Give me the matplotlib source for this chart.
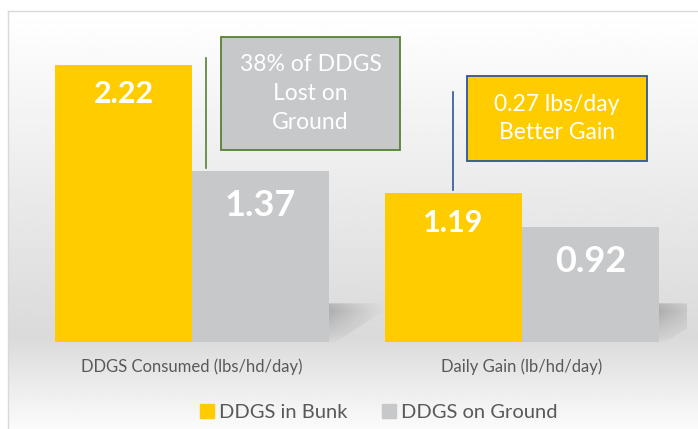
import numpy as np
import matplotlib
matplotlib.use("Agg")
import matplotlib.pyplot as plt
from matplotlib.patches import Rectangle, Polygon
from matplotlib.lines import Line2D

categories = ["DDGS Consumed (lbs/hd/day)", "Daily Gain (lb/hd/day)"]
series_names = ["DDGS in Bunk", "DDGS on Ground"]
bunk = [2.22, 1.19]
ground = [1.37, 0.92]

GOLD = "#FFCC00"
GRAY = "#C7C8CA"
TXT = "#595959"
FONT = ["Lato", "DejaVu Sans"]

plt.rcParams["font.family"] = FONT

W, H = 698, 429
fig = plt.figure(figsize=(W / 100, H / 100), dpi=100)

# background: frame with vertical gradient
bg = fig.add_axes([0, 0, 1, 1], zorder=0)
bg.set_xlim(0, W)
bg.set_ylim(H, 0)
bg.axis("off")
yy = np.linspace(0, 1, 200)
shade = np.interp(yy, [0, 0.78, 1.0], [1.0, 0.855, 0.985])
grad = np.tile(shade[:, None], (1, 2))
bg.imshow(grad, cmap="gray", vmin=0, vmax=1, extent=[8, W, H, 11],
          aspect="auto", interpolation="bilinear")
bg.plot([8, 8], [11, H], color="#D9D9D9", lw=1)
bg.plot([8, W], [11, 11], color="#D9D9D9", lw=1)

# bar axes, 330 px per category, 124.8 px per unit
ax = fig.add_axes([27 / W, 87 / H, 660 / W, 312 / H], zorder=1)
ax.set_xlim(-0.5, 1.5)
ax.set_ylim(0, 2.5)
ax.patch.set_alpha(0)
for s in ax.spines.values():
    s.set_visible(False)
ax.set_yticks([])

x = np.arange(len(categories))
w = 0.415

# soft shadows to the right of each pair
sx = np.linspace(0, 1, 60)
sy = np.linspace(0, 1, 40)
GX, GY = np.meshgrid(sx, sy)
alpha = 0.45 * (1 - GX) ** 1.3 * np.clip(1 - np.abs(GY - 0.75) * 1.2, 0, 1)
shadow_img = np.zeros((40, 60, 4))
shadow_img[..., :3] = 0.45
shadow_img[..., 3] = alpha
for xi in x:
    x0 = xi + w
    im = ax.imshow(shadow_img, extent=[x0, x0 + 0.18, 0.0, 0.33], origin="lower",
                   aspect="auto", interpolation="bilinear", zorder=1)
    clip = Polygon([[x0, 0.0], [x0, 0.31], [x0 + 0.18, 0.31], [x0 + 0.18, 0.27], [x0 + 0.02, 0.0]],
                   closed=True, transform=ax.transData)
    im.set_clip_path(clip)

ax.bar(x - w / 2, bunk, w, color=GOLD, zorder=2)
ax.bar(x + w / 2, ground, w, color=GRAY, zorder=2)

for xi, v in zip(x, bunk):
    ax.annotate(f"{v:.2f}", (xi - w / 2, v), xytext=(0, -21), textcoords="offset points",
                ha="center", va="center", color="white", fontsize=22, fontweight="bold", zorder=3)
for xi, v in zip(x, ground):
    ax.annotate(f"{v:.2f}", (xi + w / 2, v), xytext=(0, -24.5), textcoords="offset points",
                ha="center", va="center", color="white", fontsize=26, fontweight="bold", zorder=3)

ax.set_xticks(x)
ax.set_xticklabels(categories, fontsize=12, color=TXT)
ax.tick_params(axis="x", length=0, pad=12)

# callout boxes
ax.plot([0.042, 0.042], [1.394, 2.276], color="#548235", lw=1.2, zorder=3)
ax.add_patch(Rectangle((0.088, 1.538), 0.542, 0.906, facecolor=GRAY,
                       edgecolor="#548235", lw=1.3, zorder=3))
ax.text(0.359, 1.991, "38% of DDGS\nLost on\nGround", ha="center", va="center",
        color="white", fontsize=16.5, linespacing=1.45, zorder=4)

ax.plot([0.791, 0.791], [1.218, 2.003], color="#2F5597", lw=1.2, zorder=3)
ax.add_patch(Rectangle((0.833, 1.450), 0.546, 0.681, facecolor=GOLD,
                       edgecolor="#2F5597", lw=1.3, zorder=3))
ax.text(1.106, 1.790, "0.27 lbs/day\nBetter Gain", ha="center", va="center",
        color="white", fontsize=16.5, linespacing=1.4, zorder=4)

handles = [Line2D([], [], marker="s", ls="", markersize=10, color=c) for c in (GOLD, GRAY)]
fig.legend(handles, series_names, loc="center", bbox_to_anchor=(378 / W, 17 / H),
           ncol=2, frameon=False, fontsize=14.5, labelcolor=TXT,
           handletextpad=0.15, columnspacing=1.6, handlelength=0.9)

fig.savefig("out.png", dpi=100)
